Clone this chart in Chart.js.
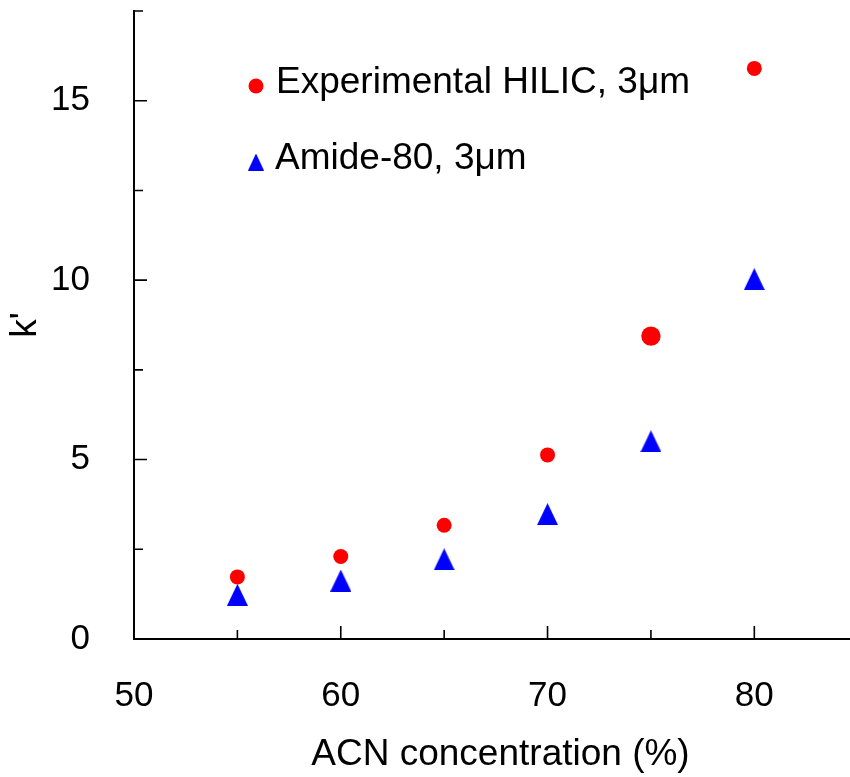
<!DOCTYPE html>
<html>
<head>
<meta charset="utf-8">
<script src="https://cdn.jsdelivr.net/npm/chart.js@4/dist/chart.umd.min.js"></script>
<style>
  html, body { margin: 0; padding: 0; background: #fff; overflow: hidden; }
  #wrap { width: 850px; height: 777px; position: relative; overflow: hidden; }
  #c { position: absolute; left: 0; top: 0; }
</style>
</head>
<body>
<div id="wrap"><canvas id="c" width="878" height="777"></canvas></div>
<script>
// ---- data ----
const acn = [55, 60, 65, 70, 75, 80];
const hilicK = [1.73, 2.30, 3.17, 5.13, 8.44, 15.9];
const amideK = [1.23, 1.63, 2.22, 3.48, 5.51, 10.03];
const seriesLabels = ['Experimental HILIC, 3\u03bcm', 'Amide-80, 3\u03bcm'];
const xTickLabels = [50, 60, 70, 80];
const xMinorTicks = [55, 65, 75, 85];
const yTickLabels = [0, 5, 10, 15];
const yMinorTicks = [2.5, 7.5, 12.5, 17.5];
const xTitle = 'ACN concentration (%)';
const yTitle = "k'";

const FONT = "'Liberation Sans', Arial, sans-serif";

function makeTriangle(w, h, color) {
  const cv = document.createElement('canvas');
  cv.width = w; cv.height = h;
  const g = cv.getContext('2d');
  g.fillStyle = color;
  g.beginPath();
  g.moveTo(w / 2, 0);
  g.lineTo(w, h);
  g.lineTo(0, h);
  g.closePath();
  g.fill();
  return cv;
}
const triPlot = makeTriangle(21, 22, '#0000ff');
const triLegend = makeTriangle(16, 17, '#0000ff');

const tickPlugin = {
  id: 'innerTicks',
  afterDraw(chart) {
    const ctx = chart.ctx;
    const xs = chart.scales.x, ys = chart.scales.y;
    const ca = chart.chartArea;
    ctx.save();
    ctx.strokeStyle = '#000';
    ctx.lineWidth = 1.6;
    ctx.beginPath();
    xTickLabels.forEach(v => { const p = xs.getPixelForValue(v); ctx.moveTo(p, ca.bottom); ctx.lineTo(p, ca.bottom - 13); });
    xMinorTicks.forEach(v => { const p = xs.getPixelForValue(v); ctx.moveTo(p, ca.bottom); ctx.lineTo(p, ca.bottom - 9); });
    yTickLabels.forEach(v => { const p = ys.getPixelForValue(v); ctx.moveTo(ca.left, p); ctx.lineTo(ca.left + 13, p); });
    yMinorTicks.forEach(v => { const p = ys.getPixelForValue(v); ctx.moveTo(ca.left, p); ctx.lineTo(ca.left + 9, p); });
    ctx.stroke();

    // legend inside plot
    ctx.fillStyle = '#ff0000';
    ctx.beginPath();
    ctx.arc(256, 86, 7.5, 0, Math.PI * 2);
    ctx.fill();
    ctx.drawImage(triLegend, 256 - 8, 162 - 8.5);
    ctx.fillStyle = '#000';
    ctx.font = '37px ' + FONT;
    ctx.textAlign = 'left';
    ctx.textBaseline = 'middle';
    ctx.fillText(chart.data.datasets[0].label, 276, 83);
    ctx.fillText(chart.data.datasets[1].label, 275, 159);
    ctx.restore();
  }
};

new Chart(document.getElementById('c'), {
  type: 'scatter',
  data: {
    datasets: [
      {
        label: seriesLabels[0],
        data: acn.map((x, i) => ({ x: x, y: hilicK[i] })),
        backgroundColor: '#ff0000',
        borderColor: '#ff0000',
        borderWidth: 0,
        pointStyle: 'circle',
        pointRadius: (c) => c.dataIndex === 4 ? 9.7 : 7.5,
        pointHoverRadius: (c) => c.dataIndex === 4 ? 9.7 : 7.5
      },
      {
        label: seriesLabels[1],
        data: acn.map((x, i) => ({ x: x, y: amideK[i] })),
        backgroundColor: '#0000ff',
        borderColor: '#0000ff',
        borderWidth: 0,
        pointStyle: triPlot,
        pointRadius: 11
      }
    ]
  },
  options: {
    responsive: false,
    animation: false,
    devicePixelRatio: 1,
    clip: false,
    layout: { padding: { top: 7, right: 0, left: 0, bottom: 0 } },
    plugins: { legend: { display: false }, tooltip: { enabled: false } },
    scales: {
      x: {
        type: 'linear',
        min: 50,
        max: 85.45,
        afterFit(s) { s.height = 138; s.paddingLeft = 0; s.paddingRight = 0; },
        afterBuildTicks(s) { s.ticks = xTickLabels.map(v => ({ value: v })); },
        border: { display: true, color: '#000', width: 2 },
        grid: { drawOnChartArea: false, drawTicks: false },
        ticks: { color: '#000', font: { family: FONT, size: 35 }, padding: 36, maxRotation: 0 },
        title: { display: true, text: xTitle, color: '#000', font: { family: FONT, size: 37 }, padding: { top: 0, bottom: 0 } }
      },
      y: {
        type: 'linear',
        min: 0,
        max: 17.5,
        afterFit(s) { s.width = 134; s.paddingTop = 0; s.paddingBottom = 0; },
        afterBuildTicks(s) { s.ticks = yTickLabels.map(v => ({ value: v })); },
        border: { display: true, color: '#000', width: 2 },
        grid: { drawOnChartArea: false, drawTicks: false },
        ticks: { color: '#000', font: { family: FONT, size: 35 }, padding: 44 },
        title: { display: true, text: yTitle, color: '#000', font: { family: FONT, size: 37 }, padding: { top: 4, bottom: 4 } }
      }
    }
  },
  plugins: [tickPlugin]
});
</script>
</body>
</html>
